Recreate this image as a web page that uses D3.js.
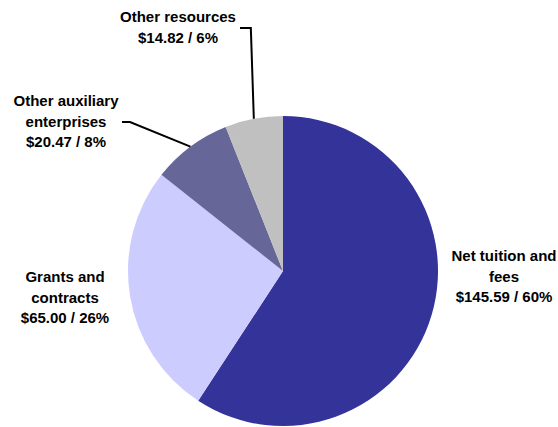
<!DOCTYPE html>
<html>
<head>
<meta charset="utf-8">
<script src="https://cdn.jsdelivr.net/npm/d3@7"></script>
<style>
  body { margin: 0; background: #fff; }
  text { font-family: "Liberation Sans", Arial, sans-serif; font-weight: bold; font-size: 15px; fill: #000; }
</style>
</head>
<body>
<div id="chart"></div>
<script>
// slice data (clockwise from 12 o'clock)
const categories = ["Net tuition and fees", "Grants and contracts", "Other auxiliary enterprises", "Other resources"];
const values = [145.59, 65.00, 20.47, 14.82];
const percents = [60, 26, 8, 6];
const colors = ["#333399", "#ccccff", "#666699", "#c0c0c0"];

// label lines for each slice
const labelLines = [
    ["Net tuition and", "fees", "$145.59 / 60%"],
    ["Grants and", "contracts", "$65.00 / 26%"],
    ["Other auxiliary", "enterprises", "$20.47 / 8%"],
    ["Other resources", "$14.82 / 6%"]
];

const width = 558, height = 427;
const cx = 283, cy = 271, radius = 155;

const svg = d3.select("#chart")
    .append("svg")
    .attr("width", width)
    .attr("height", height);

const g = svg.append("g")
    .attr("transform", `translate(${cx}, ${cy})`);

const pie = d3.pie().sort(null).value(d => d);
const arcs = pie(values);

const arc = d3.arc().innerRadius(0).outerRadius(radius);

g.selectAll("path.slice")
    .data(arcs)
    .enter()
    .append("path")
    .attr("class", "slice")
    .attr("d", arc)
    .attr("fill", (d, i) => colors[i]);

// point on the rim at the middle of a slice
let rimPoint = (d) => {
    let a = (d.startAngle + d.endAngle) / 2;
    return [cx + radius * Math.sin(a), cy - radius * Math.cos(a)];
};

// leader lines for the two small slices
let auxStart = rimPoint(arcs[2]);
let resStart = rimPoint(arcs[3]);

const line = d3.line();
svg.append("path")
    .attr("d", line([auxStart, [130, 122], [122, 122]]))
    .attr("fill", "none")
    .attr("stroke", "#000")
    .attr("stroke-width", 2);

svg.append("path")
    .attr("d", line([resStart, [resStart[0] - 3, 28], [240, 28]]))
    .attr("fill", "none")
    .attr("stroke", "#000")
    .attr("stroke-width", 2);

// label anchor (center x, first baseline)
const labelPos = [[504, 261], [65, 282], [66, 106], [178, 22]];
const lineGap = 20.7;

labelLines.forEach((lines, i) => {
    let t = svg.append("text")
        .attr("text-anchor", "middle");
    lines.forEach((s, j) => {
        t.append("tspan")
            .attr("x", labelPos[i][0])
            .attr("y", labelPos[i][1] + j * lineGap)
            .text(s);
    });
});
</script>
</body>
</html>
